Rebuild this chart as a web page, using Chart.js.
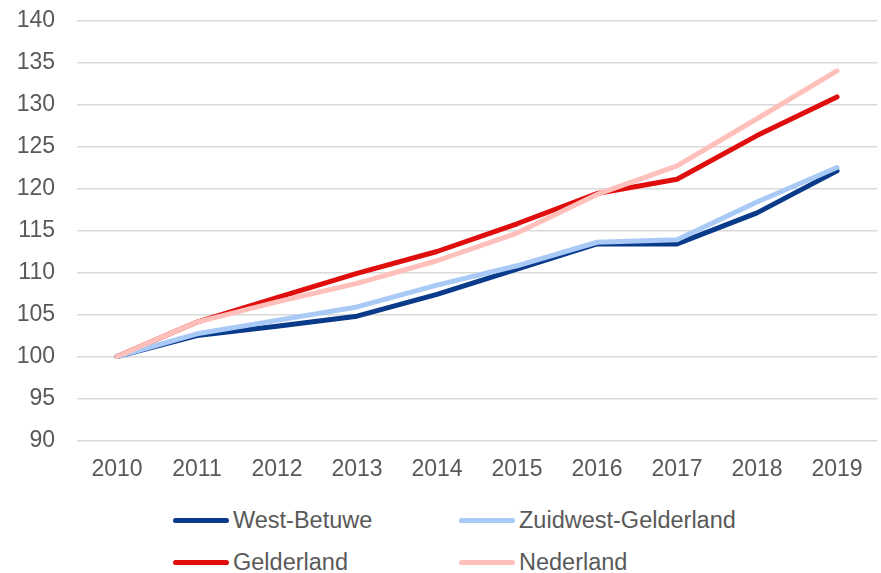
<!DOCTYPE html>
<html>
<head>
<meta charset="utf-8">
<script src="https://cdn.jsdelivr.net/npm/chart.js@4"></script>
<style>
  body { margin: 0; background: #fff; }
  .wrap { position: relative; width: 881px; height: 573px; overflow: hidden; }
  canvas { display: block; }
  .legend-item { position: absolute; font-family: "Liberation Sans", Arial, sans-serif; font-size: 23.5px; color: #595959; line-height: 1; white-space: nowrap; }
  .legend-item span.swatch { position: absolute; left: 0; height: 5px; border-radius: 3px; }
</style>
</head>
<body>
<div class="wrap">
  <canvas id="indexChart" width="881" height="490"></canvas>
  <div id="legend"></div>
</div>
<script>
const years = ['2010', '2011', '2012', '2013', '2014', '2015', '2016', '2017', '2018', '2019'];
const westBetuwe = [100, 102.5, 103.6, 104.8, 107.4, 110.4, 113.4, 113.4, 117.1, 122.1];
const zuidwestGelderland = [100, 102.7, 104.3, 105.9, 108.5, 110.8, 113.6, 113.9, 118.4, 122.5];
const gelderland = [100, 104.1, 107.0, 109.9, 112.5, 115.8, 119.4, 121.1, 126.3, 130.9];
const nederland = [100, 104.1, 106.5, 108.7, 111.4, 114.7, 119.3, 122.7, 128.3, 134.0];
const seriesNames = ['West-Betuwe', 'Zuidwest-Gelderland', 'Gelderland', 'Nederland'];
const yMin = 90, yMax = 140, yStep = 5;

const colors = ['#0a3a8a', '#a9c9f7', '#e00d0d', '#ffc0bb'];
const drawOrder = [4, 2, 3, 1]; // light lines lie on top of the dark ones

function makeDataset(i, values) {
    return {
        label: seriesNames[i],
        data: values,
        borderColor: colors[i],
        backgroundColor: colors[i],
        borderWidth: 5,
        borderCapStyle: 'round',
        borderJoinStyle: 'round',
        pointRadius: 0,
        tension: 0,
        order: drawOrder[i]
    };
}

const ctx = document.getElementById('indexChart').getContext('2d');
const indexChart = new Chart(ctx, {
    type: 'line',
    data: {
        labels: years,
        datasets: [
            makeDataset(0, westBetuwe),
            makeDataset(1, zuidwestGelderland),
            makeDataset(2, gelderland),
            makeDataset(3, nederland)
        ]
    },
    options: {
        responsive: false,
        animation: false,
        layout: { padding: { top: 20.5, right: 4, bottom: 0, left: 0 } },
        plugins: { legend: { display: false }, tooltip: { enabled: false } },
        scales: {
            x: {
                offset: true,
                grid: { display: false },
                border: { display: false },
                ticks: { color: '#595959', padding: 7, font: { family: 'Liberation Sans', size: 23 } },
                afterFit: function(scale) { scale.height = 49.5; }
            },
            y: {
                min: yMin,
                max: yMax,
                grid: { color: '#d9d9d9', lineWidth: 1.5, drawTicks: false },
                border: { display: false },
                ticks: { stepSize: yStep, color: '#595959', padding: 22, font: { family: 'Liberation Sans', size: 23 } },
                afterFit: function(scale) {
                    scale.width = 77;
                    scale.paddingTop = 0;
                    scale.paddingBottom = 0;
                }
            }
        }
    }
});

// two-column legend under the chart
const legendPos = [[173, 520], [459, 520], [173, 562], [459, 562]];
const legend = document.getElementById('legend');
indexChart.data.datasets.forEach(function(ds, i) {
    const item = document.createElement('div');
    item.className = 'legend-item';
    item.style.left = legendPos[i][0] + 'px';
    item.style.top = (legendPos[i][1] - 11) + 'px';
    item.style.paddingLeft = '60px';
    const sw = document.createElement('span');
    sw.className = 'swatch';
    sw.style.background = ds.borderColor;
    sw.style.width = '56px';
    sw.style.top = '9px';
    item.appendChild(sw);
    item.appendChild(document.createTextNode(ds.label));
    legend.appendChild(item);
});
</script>
</body>
</html>
